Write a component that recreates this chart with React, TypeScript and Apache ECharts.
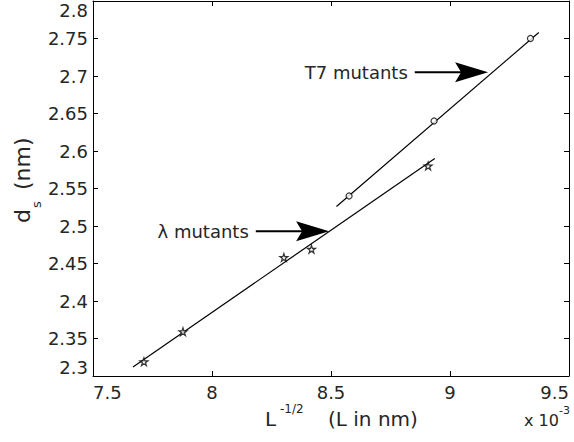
import React, { useEffect, useRef } from "react";
import * as echarts from "echarts";

// ---- data (x in units of 10^-3 nm^-1/2) ----
const xTickLabels = ["7.5", "8", "8.5", "9", "9.5"];
const yTickLabels = ["2.3", "2.35", "2.4", "2.45", "2.5", "2.55", "2.6", "2.65", "2.7", "2.75", "2.8"];

const t7X = [8.576, 8.933, 9.338];
const t7Y = [2.54, 2.64, 2.75];
const lambdaX = [7.714, 7.878, 8.302, 8.418, 8.908];
const lambdaY = [2.319, 2.359, 2.458, 2.469, 2.58];

const t7FitX = [8.523, 9.373];
const t7FitY = [2.526, 2.758];
const lambdaFitX = [7.668, 8.936];
const lambdaFitY = [2.312, 2.59];

// annotation arrows: [tailX, tipX, y] in data coordinates
const annotationLabels = ["T7 mutants", "λ mutants"];
const annotationTailX = [8.852, 8.184];
const annotationTipX = [9.16, 8.492];
const annotationY = [2.705, 2.493];

const STAR =
  "path://M0,-1L0.2245,-0.309L0.951,-0.309L0.363,0.118L0.588,0.809L0,0.382L-0.588,0.809L-0.363,0.118L-0.951,-0.309L-0.2245,-0.309Z";

const FONT = "DejaVu Sans";
const TXT = "#262626";

export default function App() {
  const ref = useRef<HTMLDivElement>(null);

  useEffect(() => {
    if (!ref.current) return;
    const chart = echarts.init(ref.current, null, { renderer: "svg" });

    const axisLine = { show: true, onZero: false, lineStyle: { color: "#000", width: 1 } };
    const axisTick = { show: true, inside: true, length: 5, lineStyle: { color: "#000", width: 1 } };

    const option: any = {
      animation: false,
      backgroundColor: "#fff",
      grid: { left: 93, right: 5, top: 1, bottom: 66 },
      xAxis: [
        {
          type: "value",
          min: 7.5,
          max: 9.5,
          interval: 0.5,
          position: "bottom",
          axisLine,
          axisTick,
          splitLine: { show: false },
          axisLabel: {
            margin: 7,
            color: TXT,
            fontFamily: FONT,
            fontSize: 18,
            alignMinLabel: "left",
            alignMaxLabel: "right",
            formatter: (_v: number, i: number) => xTickLabels[i],
          },
        },
        {
          type: "value",
          min: 7.5,
          max: 9.5,
          interval: 0.5,
          position: "top",
          axisLine,
          axisTick,
          splitLine: { show: false },
          axisLabel: { show: false },
        },
      ],
      yAxis: [
        {
          type: "value",
          min: 2.3,
          max: 2.8,
          interval: 0.05,
          position: "left",
          axisLine,
          axisTick,
          splitLine: { show: false },
          axisLabel: {
            margin: 5,
            color: TXT,
            fontFamily: FONT,
            fontSize: 18,
            verticalAlignMinLabel: "bottom",
            verticalAlignMaxLabel: "top",
            formatter: (_v: number, i: number) => yTickLabels[i],
          },
        },
        {
          type: "value",
          min: 2.3,
          max: 2.8,
          interval: 0.05,
          position: "right",
          axisLine,
          axisTick,
          splitLine: { show: false },
          axisLabel: { show: false },
        },
      ],
      series: [
        {
          type: "line",
          data: t7FitX.map((x, i) => [x, t7FitY[i]]),
          symbol: "none",
          lineStyle: { color: "#000", width: 1.2 },
          z: 2,
        },
        {
          type: "line",
          data: lambdaFitX.map((x, i) => [x, lambdaFitY[i]]),
          symbol: "none",
          lineStyle: { color: "#000", width: 1.2 },
          z: 2,
        },
        {
          type: "scatter",
          data: t7X.map((x, i) => [x, t7Y[i]]),
          symbol: "circle",
          symbolSize: 6,
          itemStyle: { color: "#fff", borderColor: "#000", borderWidth: 1.2 },
          z: 3,
        },
        {
          type: "scatter",
          data: lambdaX.map((x, i) => [x, lambdaY[i]]),
          symbol: STAR,
          symbolSize: 8,
          itemStyle: { color: "#fff", borderColor: "#000", borderWidth: 1.2 },
          z: 3,
        },
      ],
    };
    chart.setOption(option);

    const graphics: any[] = [];
    annotationLabels.forEach((label, i) => {
      const tail = chart.convertToPixel({ xAxisIndex: 0, yAxisIndex: 0 }, [annotationTailX[i], annotationY[i]]) as number[];
      const tip = chart.convertToPixel({ xAxisIndex: 0, yAxisIndex: 0 }, [annotationTipX[i], annotationY[i]]) as number[];
      const y = tip[1];
      graphics.push({
        type: "line",
        shape: { x1: tail[0], y1: y, x2: tip[0] - 26, y2: y },
        style: { stroke: "#000", lineWidth: 2 },
        z: 10,
      });
      graphics.push({
        type: "polygon",
        shape: {
          points: [
            [tip[0], y],
            [tip[0] - 33, y - 10],
            [tip[0] - 27, y],
            [tip[0] - 33, y + 10],
          ],
        },
        style: { fill: "#000" },
        z: 10,
      });
      graphics.push({
        type: "text",
        x: tail[0] - 7,
        y: y,
        style: {
          text: label,
          fill: TXT,
          fontFamily: FONT,
          fontSize: 18,
          align: "right",
          verticalAlign: "middle",
        },
        z: 10,
      });
    });

    // x-axis title: L^{-1/2}  (L in nm)
    graphics.push(
      {
        type: "text",
        x: 265,
        y: 419,
        style: { text: "L", fill: TXT, fontFamily: FONT, fontSize: 20, align: "left", verticalAlign: "middle" },
      },
      {
        type: "text",
        x: 280,
        y: 409,
        style: { text: "-1/2", fill: TXT, fontFamily: FONT, fontSize: 12, align: "left", verticalAlign: "middle" },
      },
      {
        type: "text",
        x: 328,
        y: 419,
        style: { text: "(L in nm)", fill: TXT, fontFamily: FONT, fontSize: 20, align: "left", verticalAlign: "middle" },
      },
      {
        type: "text",
        x: 524,
        y: 420,
        style: { text: "x 10", fill: TXT, fontFamily: FONT, fontSize: 16, align: "left", verticalAlign: "middle" },
      },
      {
        type: "text",
        x: 559,
        y: 410,
        style: { text: "-3", fill: TXT, fontFamily: FONT, fontSize: 11, align: "left", verticalAlign: "middle" },
      }
    );

    // y-axis title: d_s (nm), rotated
    graphics.push({
      type: "group",
      x: 22.5,
      y: 223,
      rotation: Math.PI / 2,
      children: [
        {
          type: "text",
          x: 0,
          y: 0,
          style: { text: "d", fill: TXT, fontFamily: FONT, fontSize: 22, align: "left", verticalAlign: "middle" },
        },
        {
          type: "text",
          x: 15,
          y: 14,
          style: { text: "s", fill: TXT, fontFamily: FONT, fontSize: 13, align: "left", verticalAlign: "middle" },
        },
        {
          type: "text",
          x: 33,
          y: 0,
          style: { text: "(nm)", fill: TXT, fontFamily: FONT, fontSize: 22, align: "left", verticalAlign: "middle" },
        },
      ],
    });

    chart.setOption({ graphic: graphics });

    return () => chart.dispose();
  }, []);

  return <div ref={ref} style={{ position: "fixed", left: 0, top: 0, width: 574, height: 442 }} />;
}
